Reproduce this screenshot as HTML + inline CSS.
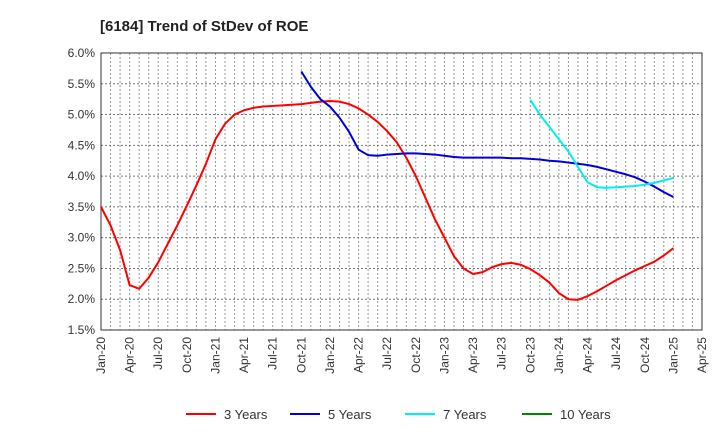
<!DOCTYPE html>
<html><head><meta charset="utf-8"><style>body{margin:0;background:#fff}svg{font-family:"Liberation Sans",sans-serif}</style></head>
<body>
<svg id="chart" width="720" height="440" xmlns="http://www.w3.org/2000/svg">
<text x="100" y="31" font-size="15" font-weight="bold" fill="#222">[6184]  Trend of StDev of ROE</text>
<g id="grid"></g><g id="axes"></g><g id="series"></g><g id="legend"></g>
</svg>
<script>
const xTickLabels=["Jan-20","Apr-20","Jul-20","Oct-20","Jan-21","Apr-21","Jul-21","Oct-21","Jan-22","Apr-22","Jul-22","Oct-22","Jan-23","Apr-23","Jul-23","Oct-23","Jan-24","Apr-24","Jul-24","Oct-24","Jan-25","Apr-25"];
const yTicks=[1.5,2.0,2.5,3.0,3.5,4.0,4.5,5.0,5.5,6.0];
const seriesNames=["3 Years","5 Years","7 Years","10 Years"];
const seriesColors=["#ff0000","#0000dd","#00eeee","#008800"];
const red=[3.5,3.2,2.8,2.23,2.17,2.35,2.6,2.9,3.2,3.52,3.85,4.2,4.6,4.85,5.0,5.07,5.11,5.13,5.14,5.15,5.16,5.17,5.19,5.21,5.22,5.21,5.17,5.1,5.0,4.88,4.73,4.55,4.3,4.0,3.65,3.3,3.0,2.7,2.5,2.41,2.44,2.52,2.57,2.59,2.56,2.49,2.39,2.27,2.1,2.0,1.99,2.05,2.13,2.22,2.31,2.39,2.47,2.54,2.61,2.71,2.83];
const redStart=0;
const blue=[5.7,5.45,5.25,5.13,4.95,4.72,4.43,4.34,4.33,4.35,4.36,4.37,4.37,4.36,4.35,4.33,4.31,4.3,4.3,4.3,4.3,4.3,4.29,4.29,4.28,4.27,4.25,4.24,4.22,4.2,4.18,4.15,4.11,4.07,4.03,3.98,3.91,3.83,3.74,3.66];
const blueStart=21;
const cyan=[5.24,5.0,4.8,4.6,4.4,4.15,3.9,3.82,3.81,3.82,3.83,3.84,3.86,3.89,3.93,3.97];
const cyanStart=45;
const green=[];
const greenStart=0;

const L=101,R=702,T=53,B=330,NM=63;
const xs=m=>L+(R-L)*m/NM;
const ys=v=>B-(B-T)*(v-1.5)/4.5;
const NS="http://www.w3.org/2000/svg";
function mk(t,a,p){const e=document.createElementNS(NS,t);for(const k in a)e.setAttribute(k,a[k]);p.appendChild(e);return e;}
const grid=document.getElementById('grid'),axes=document.getElementById('axes'),ser=document.getElementById('series'),leg=document.getElementById('legend');
for(let m=1;m<NM;m++){const l=mk('line',{x1:xs(m),x2:xs(m),y1:T,y2:B,stroke:'#999','stroke-dasharray':'2,2','stroke-width':1},grid);

}
yTicks.forEach(v=>{if(v>1.5&&v<6){const l=mk('line',{x1:L,x2:R,y1:ys(v),y2:ys(v),stroke:'#777','stroke-dasharray':'2,2','stroke-width':1},grid);

}
const t=mk('text',{x:L-6,y:ys(v)+4,'text-anchor':'end','font-size':12,fill:'#333'},axes);t.textContent=v.toFixed(1)+'%';

});
xTickLabels.forEach((s,i)=>{const x=xs(i*3);const t=mk('text',{x:0,y:0,transform:`translate(${x+4},${B+7}) rotate(-90)`,'text-anchor':'end','font-size':12,fill:'#333'},axes);t.textContent=s;

});
const fr=mk('rect',{x:L,y:T,width:R-L,height:B-T,fill:'none',stroke:'#333','stroke-width':1},axes);


[[red,redStart],[blue,blueStart],[cyan,cyanStart],[green,greenStart]].forEach(([d,s],i)=>{if(!d.length)return;
const p=mk('polyline',{points:d.map((v,j)=>xs(s+j)+','+ys(v)).join(' '),fill:'none',stroke:seriesColors[i],'stroke-width':2,'stroke-linejoin':'round'},ser);

});
const lx=[186,290,405,522];
seriesNames.forEach((n,i)=>{const g=mk('g',{},leg);


mk('line',{x1:lx[i],x2:lx[i]+30,y1:414,y2:414,stroke:seriesColors[i],'stroke-width':2},g);
const t=mk('text',{x:lx[i]+38,y:419,'font-size':13,fill:'#333'},g);t.textContent=n;});
</script>
</body></html>
